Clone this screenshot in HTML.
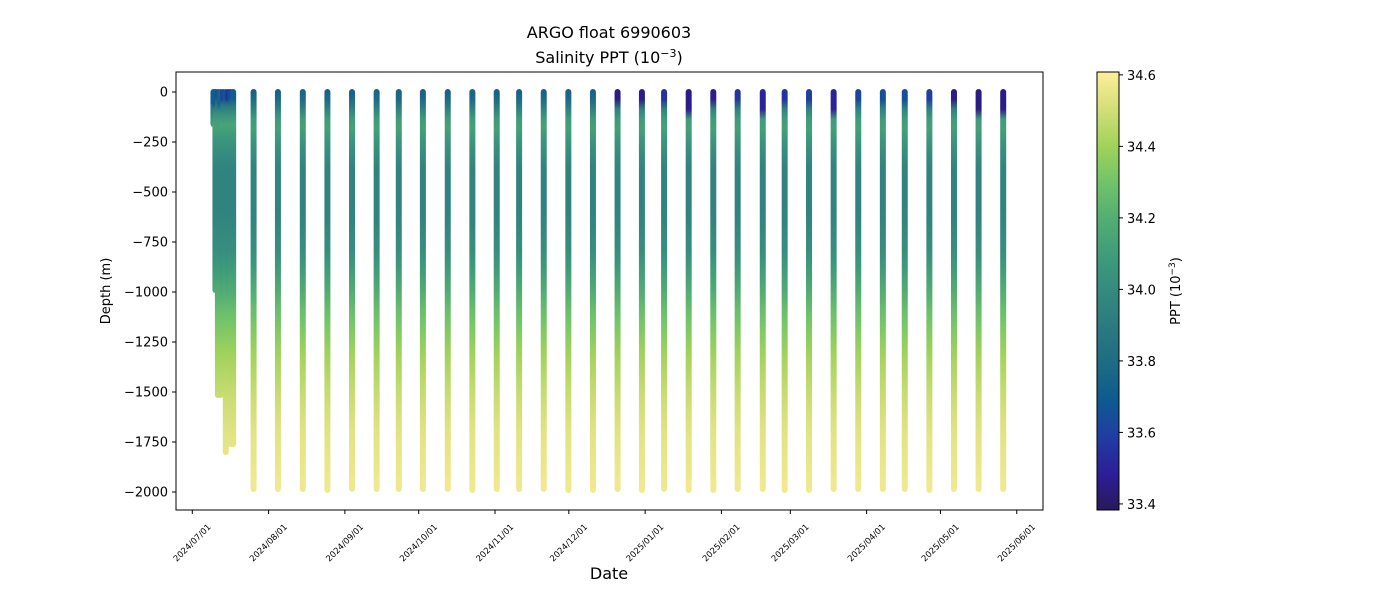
<!DOCTYPE html>
<html><head><meta charset="utf-8"><style>
body{margin:0;background:#fff;}
svg{display:block;font-family:"DejaVu Sans","Liberation Sans",sans-serif;}
</style></head><body>
<svg id="chart" width="1400" height="600" viewBox="0 0 1400 600" xmlns="http://www.w3.org/2000/svg">
<defs id="defs"></defs>
<rect width="1400" height="600" fill="#fff"/>
<text x="609" y="38" font-size="16" text-anchor="middle">ARGO float 6990603</text>
<text x="609" y="63" font-size="16" text-anchor="middle">Salinity PPT (10<tspan baseline-shift="super" font-size="11">−3</tspan>)</text>
<g id="marks"></g>
<rect x="176" y="72" width="867" height="438" fill="none" stroke="#000" stroke-width="1"/>
<g id="yaxis"></g>
<g id="xaxis"></g>
<text transform="translate(110,291) rotate(-90)" font-size="13" text-anchor="middle">Depth (m)</text>
<text x="609" y="579" font-size="16" text-anchor="middle">Date</text>
<g id="cbar"></g>
<text transform="translate(1180,291) rotate(-90)" font-size="13" text-anchor="middle">PPT (10<tspan baseline-shift="super" font-size="9">−3</tspan>)</text>
</svg>
<script>
// ---- data ----
const profileDays = [8.6,9.4,10.4,11.4,12.5,13.6,14.6,15.6,16.6,24.9,34.8,44.9,54.9,64.9,74.9,83.9,93.7,103.8,113.8,123.7,132.8,142.8,152.8,162.8,172.8,182.7,191.7,201.7,211.7,221.6,231.8,240.7,250.6,260.6,270.6,280.6,289.5,299.5,309.5,319.5,329.5];
const profileMaxDepth = [160,990,1515,1515,1000,1800,1000,1760,1760,1985,1985,1985,1990,1985,1985,1985,1985,1985,1990,1985,1985,1985,1990,1990,1985,1990,1985,1990,1990,1985,1985,1990,1990,1985,1985,1985,1985,1990,1985,1985,1985];
const surfaceSal = [33.72,33.7,33.66,33.74,33.62,33.68,33.55,33.62,33.7,33.72,33.72,33.74,33.74,33.72,33.74,33.74,33.72,33.72,33.74,33.72,33.72,33.72,33.72,33.72,33.45,33.46,33.55,33.46,33.47,33.56,33.5,33.55,33.6,33.5,33.62,33.65,33.65,33.6,33.46,33.45,33.46];
const mixedDepth = [60,80,60,90,50,70,60,80,60,40,40,40,40,40,40,40,40,40,40,40,40,40,40,40,90,90,80,110,80,70,100,80,60,100,80,60,60,60,70,120,110];
const depthLevels = [0,60,120,170,260,400,600,800,950,1100,1300,1500,1700,2000];
const salLevels  = [33.72,33.8,34.02,34.15,34.05,33.95,33.95,34.02,34.15,34.28,34.4,34.48,34.54,34.58];
const yTicks = [0,-250,-500,-750,-1000,-1250,-1500,-1750,-2000];
const xTickLabels = ["2024/07/01","2024/08/01","2024/09/01","2024/10/01","2024/11/01","2024/12/01","2025/01/01","2025/02/01","2025/03/01","2025/04/01","2025/05/01","2025/06/01"];
const xTickDays = [0,31,62,92,123,153,184,215,243,274,304,335];
const cbTicks = [33.4,33.6,33.8,34.0,34.2,34.4,34.6];
const cmapStops = [[0,"#281a5a"],[0.08,"#2d1d96"],[0.17,"#1f3ea3"],[0.25,"#0e5a90"],[0.33,"#1d6b83"],[0.42,"#2b7a80"],[0.5,"#358a7e"],[0.58,"#3f9b7b"],[0.67,"#55ae72"],[0.75,"#72c469"],[0.83,"#a0d25b"],[0.92,"#d6df7a"],[1,"#fdee9a"]];
// ---- scales ----
const NS="http://www.w3.org/2000/svg";
const X=d=>192.3+d*2.461;
const Y=v=>92-v*0.2;
const sMin=33.383,sMax=34.608;
const CB=s=>510-(s-sMin)/(sMax-sMin)*438;
function hex(h){return [1,3,5].map(i=>parseInt(h.substr(i,2),16));}
function cmap(s){let t=(s-sMin)/(sMax-sMin);t=Math.max(0,Math.min(1,t));
 for(let i=1;i<cmapStops.length;i++){if(t<=cmapStops[i][0]){const a=cmapStops[i-1],b=cmapStops[i];const f=(t-a[0])/(b[0]-a[0]);const A=hex(a[1]),B=hex(b[1]);return "rgb("+A.map((v,k)=>Math.round(v+(B[k]-v)*f)).join(",")+")";}}
 return cmapStops[cmapStops.length-1][1];}
function mk(tag,attrs,parent){const e=document.createElementNS(NS,tag);for(const k in attrs)e.setAttribute(k,attrs[k]);parent.appendChild(e);return e;}
const defs=document.getElementById('defs'),marks=document.getElementById('marks');
function profSal(i,d){
 if(d<=mixedDepth[i]) return surfaceSal[i];
 for(let j=1;j<depthLevels.length;j++){if(d<=depthLevels[j]){const f=(d-depthLevels[j-1])/(depthLevels[j]-depthLevels[j-1]);return salLevels[j-1]+(salLevels[j]-salLevels[j-1])*f;}}
 return salLevels[salLevels.length-1];}
profileDays.forEach((day,i)=>{
 const md=profileMaxDepth[i];
 const g=mk('linearGradient',{id:'g'+i,x1:0,y1:0,x2:0,y2:1},defs);
 for(let k=0;k<=40;k++){const d=md*k/40;mk('stop',{offset:(k/40),'stop-color':cmap(profSal(i,d))},g);}
 const r=mk('rect',{x:X(day)-3,y:Y(0)-3,width:6,height:Y(-md)-Y(0)+6,rx:3,fill:'url(#g'+i+')'},marks);
 
 
});
const ya=document.getElementById('yaxis');
yTicks.forEach(v=>{mk('line',{x1:172,x2:176,y1:Y(v),y2:Y(v),stroke:'#000'},ya);
 const t=mk('text',{x:168,y:Y(v)+4.5,'font-size':13,'text-anchor':'end'},ya);t.textContent=String(v).replace('-','−');
 
 });
const xa=document.getElementById('xaxis');
xTickDays.forEach((d,i)=>{const x=X(d);mk('line',{x1:x,x2:x,y1:510,y2:514,stroke:'#000'},xa);
 const t=mk('text',{transform:`translate(${x},${543}) rotate(-45)`,'font-size':8.5,'text-anchor':'middle','dominant-baseline':'middle'},xa);t.textContent=xTickLabels[i];
 
 });
const cb=document.getElementById('cbar');
const cg=mk('linearGradient',{id:'cbg',x1:0,y1:1,x2:0,y2:0},defs);
cmapStops.forEach(s=>mk('stop',{offset:s[0],'stop-color':s[1]},cg));
mk('rect',{x:1097,y:72,width:22,height:438,fill:'url(#cbg)',stroke:'#000','stroke-width':1},cb);
cbTicks.forEach(v=>{const y=CB(v);mk('line',{x1:1119,x2:1123,y1:y,y2:y,stroke:'#000'},cb);
 const t=mk('text',{x:1127,y:y+5,'font-size':13},cb);t.textContent=v.toFixed(1);
 
 });
</script>
</body></html>
